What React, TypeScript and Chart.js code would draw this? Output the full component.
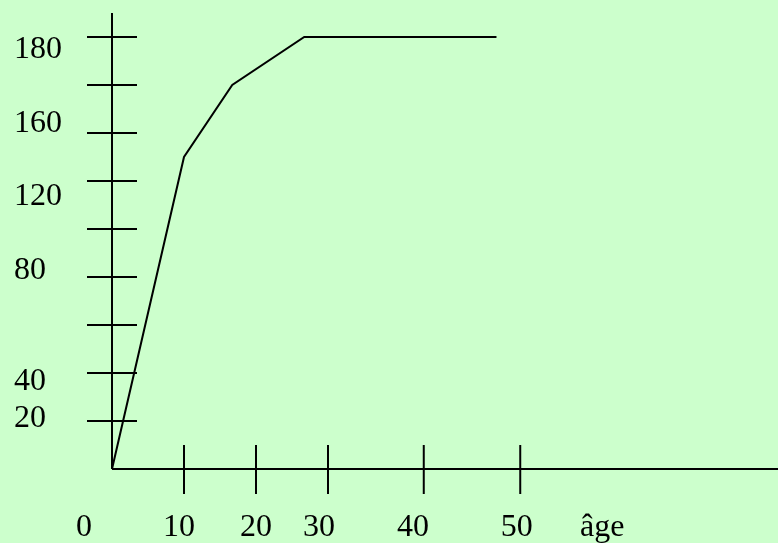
import React, { useEffect, useRef } from "react";
import { Chart, registerables } from "chart.js";

Chart.register(...registerables);

// Curve: height vs age
const ageValues = [0, 10, 16.7, 26.7, 53.4];
const heightValues = [0, 130, 160, 180, 180];

// Tick marks on the axes (data units)
const yTickValues = [20, 40, 60, 80, 100, 120, 140, 160, 180];
const xTickValues = [10, 20, 30, 43.3, 56.7];

// Axis labels as drawn in the figure
const yLabelTexts = ["180", "160", "120", "80", "40", "20"];
const yLabelAt = [171.1, 140.3, 110, 79.2, 32.9, 17.6];
const xLabelTexts = ["0", "10", "20", "30", "40", "50"];
const xLabelAt = [-3.9, 9.3, 20, 28.75, 41.8, 56.2];
const xAxisTitle = "âge";
const xAxisTitleAt = 65;

const X_MIN = -15.556;
const X_MAX = 92.5;
const Y_MIN = -30.83;
const Y_MAX = 195.42;
const Y_AXIS_TOP = 190;
const Y_LABEL_X = -13.6;
const X_LABEL_Y = -28.1;

const axesPlugin = {
  id: "handAxes",
  beforeDatasetsDraw(chart: any) {
    const ctx = chart.ctx;
    const xs = chart.scales.x;
    const ys = chart.scales.y;
    const px = (v: number) => xs.getPixelForValue(v);
    const py = (v: number) => ys.getPixelForValue(v);
    ctx.save();
    ctx.strokeStyle = "#000";
    ctx.lineWidth = 2;
    ctx.lineCap = "butt";
    // y axis
    ctx.beginPath();
    ctx.moveTo(px(0), py(Y_AXIS_TOP));
    ctx.lineTo(px(0), py(0));
    ctx.stroke();
    // x axis
    ctx.beginPath();
    ctx.moveTo(px(0), py(0));
    ctx.lineTo(px(X_MAX), py(0));
    ctx.stroke();
    // y ticks
    yTickValues.forEach((v) => {
      ctx.beginPath();
      ctx.moveTo(px(0) - 25, py(v));
      ctx.lineTo(px(0) + 25, py(v));
      ctx.stroke();
    });
    // x ticks
    xTickValues.forEach((v) => {
      ctx.beginPath();
      ctx.moveTo(px(v), py(0) - 24);
      ctx.lineTo(px(v), py(0) + 25);
      ctx.stroke();
    });
    // labels
    ctx.fillStyle = "#000";
    ctx.font = "32px 'Liberation Serif', 'Times New Roman', serif";
    ctx.textBaseline = "alphabetic";
    ctx.textAlign = "left";
    yLabelTexts.forEach((t, i) => {
      ctx.fillText(t, px(Y_LABEL_X), py(yLabelAt[i]));
    });
    ctx.textAlign = "center";
    xLabelTexts.forEach((t, i) => {
      ctx.fillText(t, px(xLabelAt[i]), py(X_LABEL_Y));
    });
    ctx.textAlign = "left";
    ctx.fillText(xAxisTitle, px(xAxisTitleAt), py(X_LABEL_Y));
    ctx.restore();
  },
};

export default function App() {
  const canvasRef = useRef<HTMLCanvasElement | null>(null);

  useEffect(() => {
    if (!canvasRef.current) return;
    const chart = new Chart(canvasRef.current, {
      type: "line",
      data: {
        datasets: [
          {
            data: ageValues.map((a, i) => ({ x: a, y: heightValues[i] })),
            borderColor: "#000",
            borderWidth: 2,
            pointRadius: 0,
            fill: false,
            tension: 0,
            clip: false as any,
          },
        ],
      },
      options: {
        animation: false,
        responsive: false,
        maintainAspectRatio: false,
        layout: { padding: 0 },
        plugins: {
          legend: { display: false },
          tooltip: { enabled: false },
          title: { display: false },
        },
        scales: {
          x: { type: "linear", min: X_MIN, max: X_MAX, display: false },
          y: { type: "linear", min: Y_MIN, max: Y_MAX, display: false },
        },
      },
      plugins: [axesPlugin],
    });
    return () => chart.destroy();
  }, []);

  return (
    <div
      style={{
        position: "fixed",
        left: 0,
        top: 0,
        width: 778,
        height: 543,
        background: "#CCFFCC",
      }}
    >
      <canvas ref={canvasRef} width={778} height={543} />
    </div>
  );
}
